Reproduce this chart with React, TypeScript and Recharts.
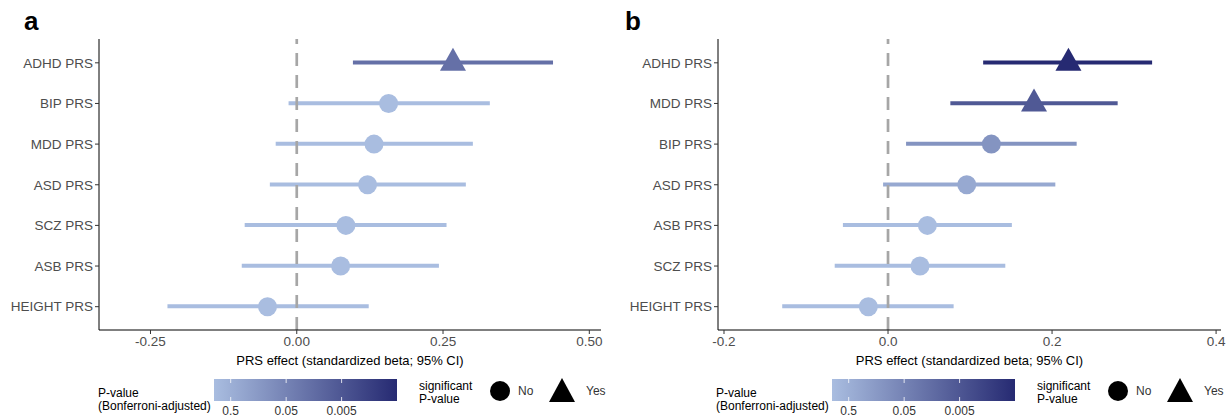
import React from 'react';
import { ComposedChart, Bar, Scatter, XAxis, YAxis, ReferenceLine, Cell, Label } from 'recharts';

// panel a
const namesA = ['ADHD PRS', 'BIP PRS', 'MDD PRS', 'ASD PRS', 'SCZ PRS', 'ASB PRS', 'HEIGHT PRS'];
const estA = [0.267, 0.157, 0.132, 0.121, 0.084, 0.075, -0.05];
const lowA = [0.096, -0.014, -0.036, -0.046, -0.089, -0.094, -0.221];
const highA = [0.438, 0.33, 0.301, 0.289, 0.256, 0.243, 0.123];
const pA = [0.019, 1, 1, 1, 1, 1, 1];
const ticksA = [-0.25, 0, 0.25, 0.5];

// panel b
const namesB = ['ADHD PRS', 'MDD PRS', 'BIP PRS', 'ASD PRS', 'ASB PRS', 'SCZ PRS', 'HEIGHT PRS'];
const estB = [0.22, 0.178, 0.126, 0.096, 0.048, 0.039, -0.024];
const lowB = [0.116, 0.076, 0.022, -0.006, -0.055, -0.065, -0.129];
const highB = [0.322, 0.28, 0.23, 0.204, 0.151, 0.143, 0.08];
const pB = [0.0005, 0.0057, 0.12, 0.35, 1, 1, 1];
const ticksB = [-0.2, 0, 0.2, 0.4];

// colour bar labels
const pLegendTicks = [0.5, 0.05, 0.005];

const LOW = [169, 189, 224];
const HIGH = [38, 42, 114];
const MAXLOG = 3.3;
const FONT = "'Liberation Sans', Arial, sans-serif";

const pColor = (p: number) => {
  const t = Math.max(0, Math.min(1, -Math.log10(p) / MAXLOG));
  const c = LOW.map((l, i) => Math.round(l + (HIGH[i] - l) * t));
  return `rgb(${c[0]},${c[1]},${c[2]})`;
};

const PointShape = (props: any) => {
  const { cx, cy, payload } = props;
  if (cx == null || cy == null) return null;
  if (payload.sig) {
    return <polygon points={`${cx},${cy - 15} ${cx - 13},${cy + 8} ${cx + 13},${cy + 8}`} fill={payload.color} />;
  }
  return <circle cx={cx} cy={cy} r={9.5} fill={payload.color} />;
};

type ForestProps = {
  names: string[];
  est: number[];
  low: number[];
  high: number[];
  p: number[];
  ticks: number[];
  domain: [number, number];
  digits: number;
  yWidth: number;
  right: number;
};

const Forest = ({ names, est, low, high, p, ticks, domain, digits, yWidth, right }: ForestProps) => {
  const data = names.map((name, i) => ({
    name,
    est: est[i],
    ci: [low[i], high[i]],
    color: pColor(p[i]),
    sig: p[i] < 0.05,
  }));
  return (
    <ComposedChart width={616} height={370} layout="vertical" data={data} margin={{ top: 39, right, bottom: 0, left: 0 }}>
      <XAxis
        type="number"
        domain={domain}
        ticks={ticks}
        interval={0}
        allowDataOverflow
        tickFormatter={(v: number) => v.toFixed(digits)}
        axisLine={{ stroke: '#000', strokeWidth: 1 }}
        tickLine={{ stroke: '#333' }}
        tickSize={4}
        tick={{ fill: '#4d4d4d', fontSize: 13.5 }}
        height={40}
      >
        <Label value="PRS effect (standardized beta; 95% CI)" position="insideBottom" offset={5} style={{ fill: '#000', fontSize: 13 }} />
      </XAxis>
      <YAxis
        type="category"
        dataKey="name"
        width={yWidth}
        padding={{ top: 3.5, bottom: 3 }}
        axisLine={{ stroke: '#000', strokeWidth: 1 }}
        tickLine={{ stroke: '#333' }}
        tickSize={4}
        tick={{ fill: '#4d4d4d', fontSize: 13.5 }}
        interval={0}
      />
      <Bar dataKey="ci" barSize={4} isAnimationActive={false}>
        {data.map((d, i) => (
          <Cell key={`ci-${i}`} fill={d.color} />
        ))}
      </Bar>
      <ReferenceLine x={0} stroke="#a6a6a6" strokeWidth={2.7} strokeDasharray="13 9" />
      <Scatter dataKey="est" shape={PointShape} isAnimationActive={false} />
    </ComposedChart>
  );
};

const PLegend = ({ x0, id }: { x0: number; id: string }) => {
  const barX = x0 + 116;
  const barW = 183;
  const barY = 379;
  const barH = 22;
  const pos = (v: number) => barX + (-Math.log10(v) / MAXLOG) * barW;
  return (
    <g fontFamily={FONT} fontSize={12} fill="#000">
      <defs>
        <linearGradient id={id} x1="0" x2="1" y1="0" y2="0">
          <stop offset="0%" stopColor={pColor(1)} />
          <stop offset="100%" stopColor={pColor(Math.pow(10, -MAXLOG))} />
        </linearGradient>
      </defs>
      <text x={x0} y={397}>P-value</text>
      <text x={x0} y={410}>(Bonferroni-adjusted)</text>
      <rect x={barX} y={barY} width={barW} height={barH} fill={`url(#${id})`} />
      {pLegendTicks.map((v) => (
        <g key={v}>
          <line x1={pos(v)} x2={pos(v)} y1={barY} y2={barY + 4} stroke="#fff" strokeWidth={0.8} />
          <line x1={pos(v)} x2={pos(v)} y1={barY + barH - 4} y2={barY + barH} stroke="#fff" strokeWidth={0.8} />
          <text x={pos(v)} y={415} textAnchor="middle" fill="#333">{String(v)}</text>
        </g>
      ))}
      <text x={x0 + 321} y={390}>significant</text>
      <text x={x0 + 321} y={403}>P-value</text>
      <circle cx={x0 + 402} cy={391} r={10} fill="#000" />
      <text x={x0 + 420} y={395} fill="#333">No</text>
      <polygon points={`${x0 + 464},${378} ${x0 + 451},${402} ${x0 + 477},${402}`} fill="#000" />
      <text x={x0 + 488} y={395} fill="#333">Yes</text>
    </g>
  );
};

export default function App() {
  return (
    <div style={{ position: 'absolute', left: 0, top: 0, width: 1232, height: 418, background: '#fff', fontFamily: FONT, overflow: 'hidden' }}>
      <div style={{ position: 'absolute', left: 0, top: 0 }}>
        <Forest names={namesA} est={estA} low={lowA} high={highA} p={pA} ticks={ticksA} domain={[-0.338, 0.52]} digits={2} yWidth={99} right={15} />
      </div>
      <div style={{ position: 'absolute', left: 616, top: 0 }}>
        <Forest names={namesB} est={estB} low={lowB} high={highB} p={pB} ticks={ticksB} domain={[-0.2073, 0.406]} digits={1} yWidth={102} right={11} />
      </div>
      <div style={{ position: 'absolute', left: 24, top: 6, fontSize: 26, fontWeight: 'bold', color: '#000' }}>a</div>
      <div style={{ position: 'absolute', left: 625, top: 6, fontSize: 26, fontWeight: 'bold', color: '#000' }}>b</div>
      <svg width={1232} height={418} style={{ position: 'absolute', left: 0, top: 0, pointerEvents: 'none' }}>
        <PLegend x0={98} id="gradA" />
        <PLegend x0={716} id="gradB" />
      </svg>
    </div>
  );
}
